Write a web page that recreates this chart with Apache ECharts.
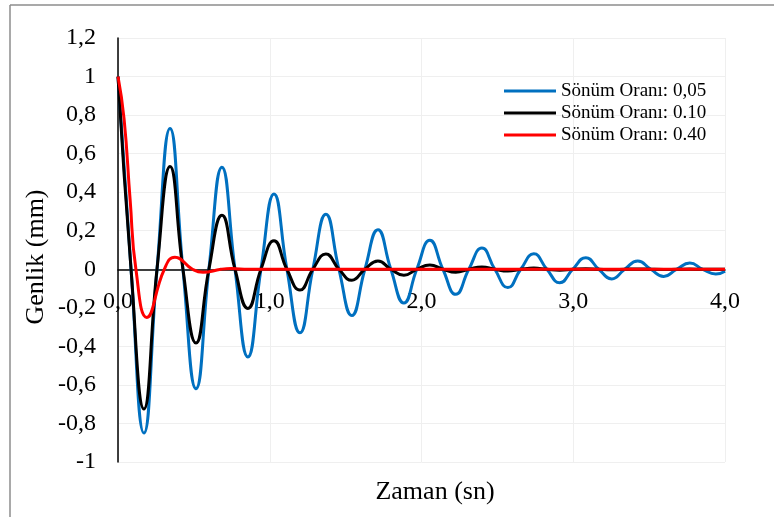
<!DOCTYPE html>
<html>
<head>
<meta charset="utf-8">
<script src="https://cdn.jsdelivr.net/npm/echarts@6/dist/echarts.min.js"></script>
<style>
html,body{margin:0;padding:0;background:#fff;}
#chart{width:774px;height:517px;}
</style>
</head>
<body>
<div id="chart"></div>
<script>
// Time stamps (s) at peaks / zero crossings of the 0.05 and 0.10 curves
const time = [0, 0.086, 0.171, 0.257, 0.343, 0.428, 0.514, 0.599, 0.685, 0.771,
  0.856, 0.942, 1.028, 1.113, 1.199, 1.284, 1.370, 1.456, 1.541, 1.627,
  1.713, 1.798, 1.884, 1.969, 2.055, 2.141, 2.226, 2.312, 2.398, 2.483,
  2.569, 2.654, 2.740, 2.826, 2.911, 2.997, 3.083, 3.168, 3.254, 3.339,
  3.425, 3.511, 3.596, 3.682, 3.768, 3.853, 3.939, 4.0];

// Sönüm Oranı 0,05 (blue)
const damp005 = [1, 0, -0.85, 0, 0.73, 0, -0.62, 0, 0.53, 0,
  -0.455, 0, 0.39, 0, -0.33, 0, 0.285, 0, -0.24, 0,
  0.205, 0, -0.175, 0, 0.15, 0, -0.13, 0, 0.11, 0,
  -0.095, 0, 0.08, 0, -0.07, 0, 0.06, 0, -0.05, 0,
  0.043, 0, -0.037, 0, 0.032, 0, -0.025, -0.01];

// Sönüm Oranı 0.10 (black)
const damp010 = [1, 0, -0.725, 0, 0.533, 0, -0.383, 0, 0.28, 0,
  -0.203, 0, 0.148, 0, -0.108, 0, 0.079, 0, -0.057, 0,
  0.043, 0, -0.031, 0, 0.022, 0, -0.016, 0, 0.012, 0,
  -0.009, 0, 0.006, 0, -0.005, 0, 0.003, 0, -0.002, 0,
  0.002, 0, -0.001, 0, 0.001, 0, 0, 0];

// Sönüm Oranı 0.40 (red)
const time040 = [0, 0.04, 0.08, 0.118, 0.19, 0.305, 0.375, 0.491, 0.56, 0.678, 0.747, 0.86, 4.0];
const damp040 = [1, 0.78, 0.36, 0, -0.25, 0, 0.063, 0, -0.016, 0, 0.004, 0, 0];

const seriesNames = ['Sönüm Oranı: 0,05', 'Sönüm Oranı: 0.10', 'Sönüm Oranı: 0.40'];
const xTickLabels = ['0,0', '1,0', '2,0', '3,0', '4,0'];
const yTickLabels = ['-1', '-0,8', '-0,6', '-0,4', '-0,2', '0', '0,2', '0,4', '0,6', '0,8', '1', '1,2'];

const FONT = "'Liberation Serif', 'Times New Roman', serif";
const GRID_TOP = 38, GRID_BOTTOM = 55, H = 517;
const Y_MIN = -1, Y_MAX = 1.2;
// distance from grid bottom up to the zero line, so x labels sit under y = 0
const zeroOffset = (H - GRID_TOP - GRID_BOTTOM) * (0 - Y_MIN) / (Y_MAX - Y_MIN);

const pairs = (xs, ys) => xs.map((x, i) => [x, ys[i]]);

const chart = echarts.init(document.getElementById('chart'), null, {renderer: 'canvas'});
chart.setOption({
  animation: false,
  backgroundColor: '#ffffff',
  grid: {left: 118, right: 49, top: GRID_TOP, bottom: GRID_BOTTOM, containLabel: false},
  legend: {
    orient: 'vertical',
    left: 499,
    top: 75,
    icon: 'rect',
    itemWidth: 52,
    itemHeight: 3,
    itemGap: 0,
    textStyle: {fontFamily: FONT, fontSize: 19, lineHeight: 22, color: '#000'},
    data: seriesNames
  },
  xAxis: {
    type: 'value',
    min: 0, max: 4, interval: 1,
    position: 'bottom',
    offset: -zeroOffset,
    axisLine: {show: true, onZero: false, lineStyle: {color: '#000', width: 1.5}},
    axisTick: {show: false},
    splitLine: {show: true, lineStyle: {color: '#efefef', width: 1}},
    axisLabel: {
      margin: 20,
      fontFamily: FONT, fontSize: 24, color: '#000',
      formatter: v => xTickLabels[Math.round(v)]
    }
  },
  yAxis: {
    type: 'value',
    min: Y_MIN, max: Y_MAX, interval: 0.2,
    axisLine: {show: true, onZero: false, lineStyle: {color: '#000', width: 1.5}},
    axisTick: {show: false},
    splitLine: {show: true, lineStyle: {color: '#efefef', width: 1}},
    axisLabel: {
      margin: 22,
      fontFamily: FONT, fontSize: 24, color: '#000',
      formatter: v => yTickLabels[Math.round((v - Y_MIN) / 0.2)]
    }
  },
  graphic: [
    {type: 'line', shape: {x1: 10, y1: 5, x2: 774, y2: 5}, style: {stroke: '#8c8c8c', lineWidth: 1.5}, silent: true},
    {type: 'line', shape: {x1: 10, y1: 5, x2: 10, y2: 517}, style: {stroke: '#8c8c8c', lineWidth: 1.5}, silent: true},
    {type: 'text', x: 435, y: 492, style: {text: 'Zaman (sn)', font: "26px 'Liberation Serif', 'Times New Roman', serif", fill: '#000', textAlign: 'center', textVerticalAlign: 'middle'}},
    {type: 'text', x: 36, y: 257, rotation: Math.PI / 2, style: {text: 'Genlik (mm)', font: "26px 'Liberation Serif', 'Times New Roman', serif", fill: '#000', textAlign: 'center', textVerticalAlign: 'middle'}}
  ],
  series: [
    {name: seriesNames[0], type: 'line', data: pairs(time, damp005), smooth: 0.5, showSymbol: false, symbol: 'none',
     lineStyle: {color: '#0070C0', width: 3}, itemStyle: {color: '#0070C0'}, z: 2},
    {name: seriesNames[1], type: 'line', data: pairs(time, damp010), smooth: 0.5, showSymbol: false, symbol: 'none',
     lineStyle: {color: '#000000', width: 3}, itemStyle: {color: '#000000'}, z: 3},
    {name: seriesNames[2], type: 'line', data: pairs(time040, damp040), smooth: 0.5, showSymbol: false, symbol: 'none',
     lineStyle: {color: '#FF0000', width: 3}, itemStyle: {color: '#FF0000'}, z: 4}
  ]
});
</script>
</body>
</html>
